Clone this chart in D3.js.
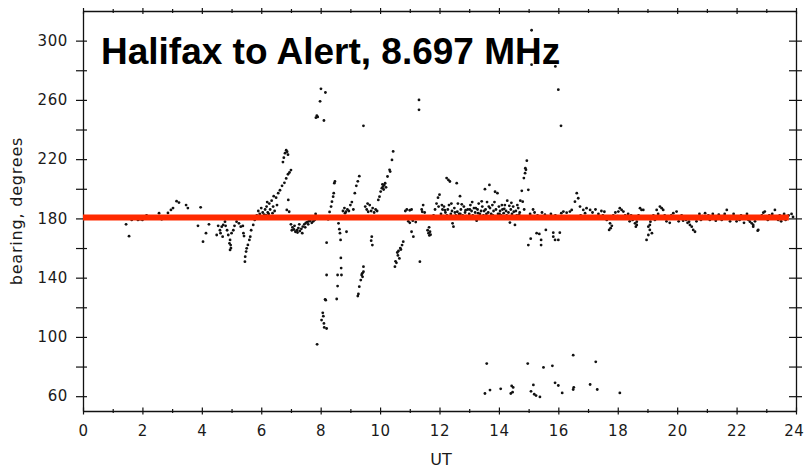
<!DOCTYPE html>
<html>
<head>
<meta charset="utf-8">
<script src="https://cdn.jsdelivr.net/npm/d3@7"></script>
<style>
  body { margin: 0; background: #fff; }
  svg text { font-family: "DejaVu Sans", sans-serif; }
</style>
</head>
<body>
<div id="chart"></div>
<script>
// measured bearings, [UT hours, bearing degrees]
var pts0to6 = [
  [1.45,176],[1.55,168],[1.64,179],[1.85,179],[1.92,179.5],[2.0,179],[2.05,180],[2.14,182],[2.3,180],
  [2.56,183.5],[2.65,179.4],[2.86,183.7],[2.96,185.7],[3.03,187],[3.15,191.6],[3.23,190.7],[3.47,189],
  [3.53,187],[3.96,187.5],[3.87,175],[4.24,176],[4.14,170],[4.04,164.3],
  [4.5,168.8],[4.61,172],[4.67,174.4],[4.72,175.6],[4.78,177.8],[4.7,167.7],[4.85,172],[4.89,168.8],
  [4.95,165.5],[4.93,163.2],[4.97,162],[4.95,158.7],[5.06,172],[5.17,177.8],[5.25,176.7],[5.31,174.4],
  [5.38,174.9],[5.4,170],[5.42,168.1],[4.55,175],[4.63,170],[4.8,175],[5.0,170],[5.1,175],[4.98,160],
  [5.45,150.8],[5.46,154.2],[5.49,157.6],[5.51,159.8],[5.55,162.1],[5.6,165.5],[5.63,167.7],[5.66,172],
  [5.73,175.6],[5.78,179],[5.85,182],[5.9,185],[5.95,183],[6.0,187],[6.05,184],[6.1,182.5]
];

var pts6to12 = [
  [6.13,186],[6.18,188],[6.22,184],[6.27,190],[6.3,186],[6.35,192],[6.4,188],[6.45,185],[6.5,194],
  [6.53,189],[6.25,183],[6.38,183.5],[6.16,182],[6.42,195],[6.2,191],
  [6.57,197],[6.63,199],[6.7,202],[6.78,204],[6.84,207],[6.9,209.8],[6.95,211],[7.0,212.6],
  [6.73,218],[6.76,221],[6.8,224],[6.84,226],[6.87,225],[6.9,223],[6.91,192.5],[6.86,185.7],[6.94,184.5],
  [7.0,176],[7.05,174],[7.1,172.5],[7.15,171],[7.2,172],[7.25,173.5],[7.3,171.5],[7.35,173],[7.4,174.5],
  [7.45,176],[7.5,177],[7.55,177.5],[7.6,178],[7.65,178.5],[7.75,178],[7.8,179],[7.03,172],[7.12,175],
  [7.22,170.5],[7.28,176],[7.38,170],[7.48,174],[7.58,176],[7.7,177],[7.83,183],
  [8.25,179.4],[8.3,184.4],[8.35,188],[8.38,191.3],[8.42,194.7],[8.44,197],[8.46,203.8],[8.48,204.9],
  [8.2,163.6],[8.2,141.8],[8.57,141.8],[8.57,134.3],[8.15,125.4],[8.17,124.8],[8.54,125.6],
  [8.07,116.3],[8.09,114],[8.03,111.4],[8.11,109.1],[8.12,106.4],[8.2,105.7],[7.88,95],
  [8.6,176.7],[8.63,172.7],[8.65,170],[8.67,165.5],[8.68,153.3],[8.69,146.5],[8.7,141.8],[8.87,171],
  [8.75,185],[8.8,187],[8.85,184.5],[8.9,186],[8.95,185],[9.0,189],[9.05,191],[9.1,186],[8.82,183.5],
  [9.15,197],[9.2,202],[9.25,205],[9.3,208.5],
  [9.44,147.4],[9.4,142.9],[9.38,141.8],[9.41,140.6],[9.35,138.4],[9.3,133.9],[9.27,129],[9.25,127.6],[9.44,144],
  [9.5,188],[9.55,186],[9.6,184.5],[9.65,189],[9.7,185],[9.75,187],[9.8,184],[9.85,186],[9.9,185],[9.58,190],
  [9.72,167.7],[9.7,165],[9.74,162],
  [9.94,192.5],[9.98,194.7],[10.02,198.1],[10.06,200.4],[10.1,201.5],[10.14,202.6],[10.17,203.8],
  [10.2,201],[10.25,208.3],[10.32,212.8],[10.34,211.6],[10.4,219.5],[10.44,225.2],[10.12,199.5],[10.08,203],
  [10.5,147.4],[10.52,151],[10.55,150],[10.6,155],[10.62,158],[10.68,160],[10.7,159],[10.74,162],
  [10.78,164.3],[10.58,157],[10.65,153],
  [10.85,185],[10.9,186],[11.0,185.5],[11.06,186],[10.95,178],[11.0,177],[11.1,178.5],[11.2,177.5],
  [11.06,171],[11.12,167.7],[11.4,186],[11.45,189],[11.5,184],[11.42,184.5],[11.34,150.8],
  [11.6,172],[11.63,170],[11.66,168.5],[11.68,171],[11.7,169],[11.65,174],
  [11.8,182],[11.85,186],[11.9,190],[11.95,194],[12.0,196],[11.97,188]
];

var pts12to18 = [
  [12.05,183],[12.1,186],[12.12,181.5],[12.15,188],[12.2,184],[12.24,207.2],[12.3,206],[12.35,204.9],
  [12.25,182],[12.28,186],[12.32,189],[12.38,183],[12.42,185],[12.44,176.7],[12.47,174.4],[12.5,187],
  [12.55,182],[12.58,203.8],[12.6,184.5],[12.62,190],[12.66,183],[12.69,195],[12.72,186],[12.78,182],
  [12.82,188],[12.86,184],[12.9,181.5],[12.95,186],[13.0,183],[13.04,189],[13.08,185],[13.12,182],
  [13.16,187],[13.2,184],[13.25,178.5],[13.28,186],[13.32,190],[13.36,183],[13.4,185],[13.44,188],
  [13.48,182],[13.53,199.7],[13.55,186],[13.6,191],[13.64,184],[13.68,202.6],[13.7,187],[13.74,183],
  [13.78,189],[13.82,185],[13.87,198],[13.9,186],[13.95,197],[13.97,183],[14.0,188],[14.04,185],
  [14.08,182],[14.12,186],[14.16,183.5],[14.2,189],[14.24,185],[14.28,192],[14.32,184],[14.37,177.2],
  [14.4,186],[14.44,183],[14.48,188],[14.54,175.6],[14.57,185],[14.6,182],[14.65,187],[14.7,184],
  [12.08,189],[12.18,185.5],[12.4,190],[12.52,184],[12.7,183],[12.75,189.5],[12.88,185.5],[13.02,186],
  [13.1,191],[13.22,187],[13.3,183.5],[13.42,191.5],[13.5,185],[13.58,183],[13.66,188],[13.8,182],
  [13.85,191],[14.02,183],[14.1,189],[14.18,186.5],[14.26,182],[14.35,188.5],[14.42,190.5],[14.5,184.5],
  [14.62,189],[14.68,182.5],[14.72,192],
  [14.77,198.6],[14.8,191.3],[14.84,207.2],[14.88,210.5],[14.91,212.8],[14.89,213.9],[14.94,219],
  [14.99,199.3],[14.75,180],[14.85,186],
  [15.05,183],[15.1,181.5],[15.15,186],[15.2,184],[15.07,166.3],[14.99,162],[15.27,170],[15.36,169.5],
  [15.42,165.5],[15.42,162],[15.58,172.2],[15.83,170.4],[15.83,167.7],[16.0,165.5],[15.89,165.5],
  [16.05,170.4],[15.3,182],[15.45,184],[15.55,182.5],[15.65,181.5],[15.75,183],[15.9,182],[16.1,183.5],
  [16.17,184.6],[16.28,183.9],[16.39,184.6],[16.45,185.7],[16.56,191.3],[16.62,197],[16.67,193.6],
  [16.73,188],[16.84,185.7],[16.95,186.9],[16.9,183.5],[17.07,185.7],[16.5,181],[16.75,182],
  [17.15,184],[17.25,186],[17.35,183],[17.45,185],[17.5,182],[17.55,184.5],[17.63,179],[17.74,176.7],
  [17.76,173.4],[17.71,172.2],[17.8,175],[17.85,182],[17.92,184],[18.0,181.5]
];

var pts18to24 = [
  [18.02,184.6],[18.07,186.9],[18.13,185.7],[18.19,184.6],[18.25,182],[18.3,180],[18.35,183],[18.4,178],
  [18.45,182],[18.5,179],[18.58,176.7],[18.64,175.6],[18.61,174.4],[18.64,177.8],[18.7,182],[18.75,186.9],
  [18.8,185.7],[18.86,185.7],[18.92,181],[18.97,165.5],[19.03,168.8],[19.08,172.2],[19.03,174.4],
  [19.15,170],[19.08,175.6],[19.1,177.8],[19.2,182],[19.25,179],[19.31,185.7],[19.36,183],[19.42,188],
  [19.48,186.9],[19.53,185.7],[19.58,182],[19.64,178],[19.7,180],[19.75,177],[19.8,182],[19.87,183.5],
  [19.93,181],[19.98,184.6],[20.05,178],[20.1,180],[20.15,182],[20.2,178.5],[20.25,181],[20.3,179],
  [20.35,177],[20.43,175.6],[20.49,174.4],[20.54,172.2],[20.6,171],[20.4,177.8],[20.65,178],[20.7,181],
  [20.75,183],[20.8,179],[20.86,181.5],[20.94,183.5],[21.0,180],[21.05,182],[21.1,179],[21.15,181],
  [21.2,183],[21.25,180],[21.3,178.5],[21.35,181],[21.4,182.5],[21.45,180],[21.5,179],[21.55,181.5],
  [21.6,183],[21.67,185.7],[21.72,180],[21.78,178],[21.85,181],[21.9,183],[21.95,180],[22.0,178],
  [22.05,181],[22.1,179],[22.15,182],[22.2,180],[22.25,177],[22.3,181],[22.35,183],[22.4,179],
  [22.45,177.8],[22.51,176.7],[22.56,174.4],[22.56,175.6],[22.71,171.7],[22.73,172.2],[22.62,178],
  [22.8,180],[22.85,182],[22.9,183.9],[22.95,184.6],[23.0,181],[23.05,179],[23.1,182],[23.15,180],
  [23.2,183],[23.29,185.7],[23.35,181],[23.4,179],[23.45,182],[23.5,178],[23.55,180],[23.6,183],
  [23.65,179],[23.7,181],[23.75,182],[23.85,183],[23.9,181]
];

// stray readings far off the path
var farPts = [
  [8.01,267.5],[8.16,265],[7.98,259],[7.87,249.3],[7.9,248.5],[7.84,248],[8.11,246.1],[9.44,242.5],
  [11.31,260],[11.31,253.3],[15.1,307],[15.1,283.8],[15.9,282.6],[16.0,266.9],[16.09,242.5],
  [13.53,61.8],[13.7,64.1],[14.06,65],[14.43,66.9],[14.48,65.9],[14.4,61.8],[14.46,62.7],[13.59,82],
  [14.97,82],[15.16,67.6],[15.08,63.3],[15.19,61.3],[15.25,60.4],[15.38,59.5],[15.5,79.4],[15.8,80.5],
  [15.89,69],[16.0,67.2],[16.13,62.2],[16.5,87.7],[16.5,64.5],[16.52,66],[17.07,67.9],[17.26,83.2],
  [17.31,64.5],[18.07,62.2]
];

var greatCircle = 180.6;          // great-circle bearing, red line
var greatCircleUT = [0, 23.76];
var yTicks = [60, 80, 100, 120, 140, 160, 180, 200, 220, 240, 260, 280, 300];
var yLabels = [60, 100, 140, 180, 220, 260, 300];
var xTicks = d3.range(0, 25, 1);
var title = "Halifax to Alert, 8.697 MHz";

var W = 805, H = 469;
var svg = d3.select('#chart').append('svg')
    .attr('width', W)
    .attr('height', H);

var x = d3.scaleLinear().domain([0, 24]).range([83, 796]);
var y = d3.scaleLinear().domain([50, 320]).range([411, 11]);

/*
 * axes
 */
function tidy(g) {
  g.select('.domain').attr('stroke', '#111').attr('stroke-width', 1.3);
  g.selectAll('.tick line').attr('stroke', '#111').attr('stroke-width', 1.2);
  g.selectAll('.tick text').attr('fill', '#1a1a1a').style('font-size', '15px').style('letter-spacing', '0.6px');
}

svg.append('g')
    .attr('transform', 'translate(0,' + y.range()[0] + ')')
    .call(d3.axisBottom(x).tickValues(xTicks).tickSizeOuter(0)
      .tickFormat(d => d % 2 ? '' : d))
    .call(tidy)
    .call(g => {
      g.selectAll('.tick line').attr('y1', d => d % 2 ? -2 : -3.5).attr('y2', d => d % 2 ? 2 : 3.5);
      g.selectAll('.tick text').attr('y', 14);
      // last label sits against the page edge
      g.selectAll('.tick text').filter(d => d === 24).attr('text-anchor', 'end').attr('x', 8);
    });

svg.append('g')
    .attr('transform', 'translate(0,' + y.range()[1] + ')')
    .call(d3.axisTop(x).tickValues(xTicks).tickSizeOuter(0).tickFormat(''))
    .call(tidy)
    .call(g => g.selectAll('.tick line').attr('y1', d => d % 2 ? 2 : 3).attr('y2', d => d % 2 ? -2 : -3));

svg.append('g')
    .attr('transform', 'translate(' + x.range()[0] + ',0)')
    .call(d3.axisLeft(y).tickValues(yTicks).tickSizeOuter(0)
      .tickFormat(d => yLabels.indexOf(d) >= 0 ? d : ''))
    .call(tidy)
    .call(g => {
      g.selectAll('.tick line').attr('x1', 4).attr('x2', -7);
      g.selectAll('.tick text').attr('x', -15);
    });

svg.append('g')
    .attr('transform', 'translate(' + x.range()[1] + ',0)')
    .call(d3.axisRight(y).tickValues(yTicks).tickSizeOuter(0).tickFormat(''))
    .call(tidy)
    .call(g => g.selectAll('.tick line').attr('x1', -7).attr('x2', 6));

svg.append('text')
    .attr('transform', 'translate(22,' + 211 + ') rotate(-90)')
    .attr('text-anchor', 'middle')
    .attr('fill', '#1a1a1a')
    .style('font-size', '16px')
    .style('letter-spacing', '0.8px')
    .text('bearing, degrees');

svg.append('text')
    .attr('x', 441)
    .attr('y', 465)
    .attr('text-anchor', 'middle')
    .attr('fill', '#1a1a1a')
    .style('font-size', '16px')
    .text('UT');

/*
 * marks
 */
var allPts = pts0to6.concat(pts6to12, pts12to18, pts18to24, farPts);

svg.append('g').selectAll('circle')
    .data(allPts)
    .enter()
    .append('circle')
      .attr('cx', d => x(d[0]))
      .attr('cy', d => y(d[1]))
      .attr('r', 1.4)
      .attr('fill', '#111');

svg.append('line')
    .attr('x1', x(greatCircleUT[0]))
    .attr('x2', x(greatCircleUT[1]))
    .attr('y1', y(greatCircle))
    .attr('y2', y(greatCircle))
    .attr('stroke', '#ff2a00')
    .attr('stroke-width', 6);

svg.append('text')
    .attr('x', 101)
    .attr('y', 64)
    .attr('fill', '#000')
    .style('font-family', '"Liberation Sans", Arial, sans-serif')
    .style('font-weight', 'bold')
    .style('font-size', '37px')
    .text(title);
</script>
</body>
</html>
